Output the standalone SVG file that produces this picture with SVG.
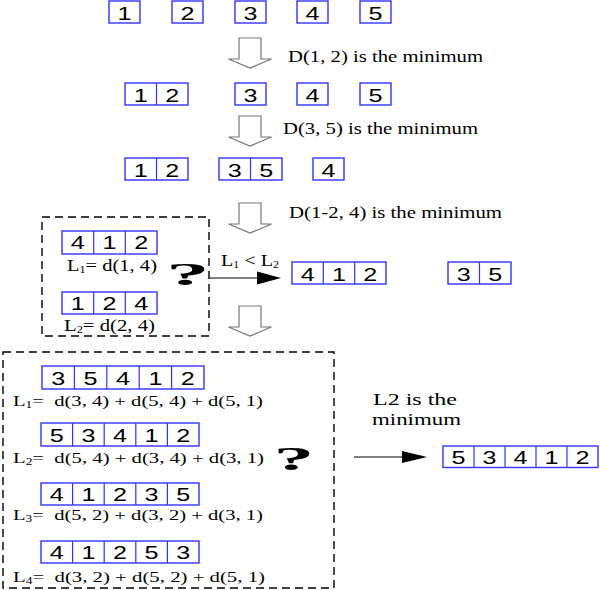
<svg xmlns="http://www.w3.org/2000/svg" width="600" height="590" viewBox="0 0 600 590">
<style>
.bx{fill:#fff;stroke:#3333ff;stroke-width:1.4}
.dv{stroke:#3333ff;stroke-width:1.2}
.dg{font-family:"Liberation Sans",Arial,sans-serif;font-size:19px;text-anchor:middle;fill:#000}
.tm{font-family:"Liberation Serif","Times New Roman",serif;font-size:17px;fill:#000}
.fm{font-family:"Liberation Serif","Times New Roman",serif;font-size:15.5px;fill:#000;white-space:pre}
.sb{font-size:10px}
.ha{fill:#fff;stroke:#777;stroke-width:1.2}
.dash{fill:none;stroke:#000;stroke-width:1.4;stroke-dasharray:8 5}
.ln{stroke:#000;stroke-width:1.2}
.q{font-family:"Liberation Serif","Times New Roman",serif;font-weight:bold;font-size:31px;text-anchor:middle}
</style>
<defs>
<path id="harrow" class="ha" d="M-11,0 H11 V21 H21.5 L0,30 L-21.5,21 H-11 Z"/>
</defs>

<!-- Row 1 -->
<g id="r1n1"><rect class="bx" x="109" y="1" width="31" height="22"/><text class="dg" x="124.5" y="19.5" textLength="14" lengthAdjust="spacingAndGlyphs">1</text></g>
<g id="r1n2"><rect class="bx" x="172" y="1" width="31" height="22"/><text class="dg" x="187.5" y="19.5" textLength="14" lengthAdjust="spacingAndGlyphs">2</text></g>
<g id="r1n3"><rect class="bx" x="235" y="1" width="31" height="22"/><text class="dg" x="250.5" y="19.5" textLength="14" lengthAdjust="spacingAndGlyphs">3</text></g>
<g id="r1n4"><rect class="bx" x="297" y="1" width="31" height="22"/><text class="dg" x="312.5" y="19.5" textLength="14" lengthAdjust="spacingAndGlyphs">4</text></g>
<g id="r1n5"><rect class="bx" x="360" y="1" width="31" height="22"/><text class="dg" x="375.5" y="19.5" textLength="14" lengthAdjust="spacingAndGlyphs">5</text></g>

<!-- Row 2 -->
<g id="r2n12"><rect class="bx" x="125" y="83" width="63" height="22"/><line class="dv" x1="156.5" y1="83" x2="156.5" y2="105"/>
<text class="dg" x="140.75" y="101.5" textLength="14" lengthAdjust="spacingAndGlyphs">1</text><text class="dg" x="172.25" y="101.5" textLength="14" lengthAdjust="spacingAndGlyphs">2</text></g>
<g id="r2n3"><rect class="bx" x="235" y="83" width="31" height="22"/><text class="dg" x="250.5" y="101.5" textLength="14" lengthAdjust="spacingAndGlyphs">3</text></g>
<g id="r2n4"><rect class="bx" x="297" y="83" width="31" height="22"/><text class="dg" x="312.5" y="101.5" textLength="14" lengthAdjust="spacingAndGlyphs">4</text></g>
<g id="r2n5"><rect class="bx" x="360" y="83" width="31" height="22"/><text class="dg" x="375.5" y="101.5" textLength="14" lengthAdjust="spacingAndGlyphs">5</text></g>

<!-- Row 3 -->
<g id="r3n12"><rect class="bx" x="125" y="158" width="63" height="22"/><line class="dv" x1="156.5" y1="158" x2="156.5" y2="180"/>
<text class="dg" x="140.75" y="176.5" textLength="14" lengthAdjust="spacingAndGlyphs">1</text><text class="dg" x="172.25" y="176.5" textLength="14" lengthAdjust="spacingAndGlyphs">2</text></g>
<g id="r3n35"><rect class="bx" x="219" y="158" width="63" height="22"/><line class="dv" x1="250.5" y1="158" x2="250.5" y2="180"/>
<text class="dg" x="234.75" y="176.5" textLength="14" lengthAdjust="spacingAndGlyphs">3</text><text class="dg" x="266.25" y="176.5" textLength="14" lengthAdjust="spacingAndGlyphs">5</text></g>
<g id="r3n4"><rect class="bx" x="313" y="158" width="31" height="22"/><text class="dg" x="328.5" y="176.5" textLength="14" lengthAdjust="spacingAndGlyphs">4</text></g>

<!-- Dashed box 1 -->
<g id="cand1">
<rect class="dash" x="42" y="217" width="167" height="119"/>
<g id="c412"><rect class="bx" x="62" y="231" width="95" height="23"/><line class="dv" x1="93.7" y1="231" x2="93.7" y2="254"/><line class="dv" x1="125.3" y1="231" x2="125.3" y2="254"/>
<text class="dg" x="77.8" y="249" textLength="14" lengthAdjust="spacingAndGlyphs">4</text><text class="dg" x="109.5" y="249" textLength="14" lengthAdjust="spacingAndGlyphs">1</text><text class="dg" x="141.2" y="249" textLength="14" lengthAdjust="spacingAndGlyphs">2</text></g>
<text class="tm" x="67" y="271" textLength="90" lengthAdjust="spacingAndGlyphs">L<tspan class="sb" dy="2">1</tspan><tspan dy="-2">= d(1, 4)</tspan></text>
<g id="c124"><rect class="bx" x="62" y="292" width="95" height="22"/><line class="dv" x1="93.7" y1="292" x2="93.7" y2="314"/><line class="dv" x1="125.3" y1="292" x2="125.3" y2="314"/>
<text class="dg" x="77.8" y="310" textLength="14" lengthAdjust="spacingAndGlyphs">1</text><text class="dg" x="109.5" y="310" textLength="14" lengthAdjust="spacingAndGlyphs">2</text><text class="dg" x="141.2" y="310" textLength="14" lengthAdjust="spacingAndGlyphs">4</text></g>
<text class="tm" x="64" y="331" textLength="91" lengthAdjust="spacingAndGlyphs">L<tspan class="sb" dy="2">2</tspan><tspan dy="-2">= d(2, 4)</tspan></text>
<text class="q" transform="translate(188,285) scale(2.8,1)">?</text>
</g>

<!-- Result row 4 -->
<g id="r4n412"><rect class="bx" x="292" y="262" width="94" height="22"/><line class="dv" x1="323.3" y1="262" x2="323.3" y2="284"/><line class="dv" x1="354.7" y1="262" x2="354.7" y2="284"/>
<text class="dg" x="307.7" y="280.5" textLength="14" lengthAdjust="spacingAndGlyphs">4</text><text class="dg" x="339" y="280.5" textLength="14" lengthAdjust="spacingAndGlyphs">1</text><text class="dg" x="370.3" y="280.5" textLength="14" lengthAdjust="spacingAndGlyphs">2</text></g>
<g id="r4n35"><rect class="bx" x="448" y="262" width="63" height="22"/><line class="dv" x1="479.5" y1="262" x2="479.5" y2="284"/>
<text class="dg" x="463.75" y="280.5" textLength="14" lengthAdjust="spacingAndGlyphs">3</text><text class="dg" x="495.25" y="280.5" textLength="14" lengthAdjust="spacingAndGlyphs">5</text></g>

<!-- Dashed box 2 -->
<g id="cand2">
<rect class="dash" x="3" y="352" width="331" height="236"/>
<g id="p35412"><rect class="bx" x="42" y="366" width="162" height="23"/>
<line class="dv" x1="74.4" y1="366" x2="74.4" y2="389"/><line class="dv" x1="106.8" y1="366" x2="106.8" y2="389"/><line class="dv" x1="139.2" y1="366" x2="139.2" y2="389"/><line class="dv" x1="171.6" y1="366" x2="171.6" y2="389"/>
<text class="dg" x="58.2" y="384.5" textLength="14" lengthAdjust="spacingAndGlyphs">3</text><text class="dg" x="90.6" y="384.5" textLength="14" lengthAdjust="spacingAndGlyphs">5</text><text class="dg" x="123" y="384.5" textLength="14" lengthAdjust="spacingAndGlyphs">4</text><text class="dg" x="155.4" y="384.5" textLength="14" lengthAdjust="spacingAndGlyphs">1</text><text class="dg" x="187.8" y="384.5" textLength="14" lengthAdjust="spacingAndGlyphs">2</text></g>
<text class="fm" x="13" y="406" textLength="250" lengthAdjust="spacingAndGlyphs">L<tspan class="sb" dy="2">1</tspan><tspan dy="-2">=  d(3, 4) + d(5, 4) + d(5, 1)</tspan></text>

<g id="p53412"><rect class="bx" x="41" y="423" width="158" height="23"/>
<line class="dv" x1="72.6" y1="423" x2="72.6" y2="446"/><line class="dv" x1="104.2" y1="423" x2="104.2" y2="446"/><line class="dv" x1="135.8" y1="423" x2="135.8" y2="446"/><line class="dv" x1="167.4" y1="423" x2="167.4" y2="446"/>
<text class="dg" x="56.8" y="441.5" textLength="14" lengthAdjust="spacingAndGlyphs">5</text><text class="dg" x="88.4" y="441.5" textLength="14" lengthAdjust="spacingAndGlyphs">3</text><text class="dg" x="120" y="441.5" textLength="14" lengthAdjust="spacingAndGlyphs">4</text><text class="dg" x="151.6" y="441.5" textLength="14" lengthAdjust="spacingAndGlyphs">1</text><text class="dg" x="183.2" y="441.5" textLength="14" lengthAdjust="spacingAndGlyphs">2</text></g>
<text class="fm" x="13" y="463" textLength="251" lengthAdjust="spacingAndGlyphs">L<tspan class="sb" dy="2">2</tspan><tspan dy="-2">=  d(5, 4) + d(3, 4) + d(3, 1)</tspan></text>

<g id="p41235"><rect class="bx" x="41" y="483" width="158" height="22"/>
<line class="dv" x1="72.6" y1="483" x2="72.6" y2="505"/><line class="dv" x1="104.2" y1="483" x2="104.2" y2="505"/><line class="dv" x1="135.8" y1="483" x2="135.8" y2="505"/><line class="dv" x1="167.4" y1="483" x2="167.4" y2="505"/>
<text class="dg" x="56.8" y="501" textLength="14" lengthAdjust="spacingAndGlyphs">4</text><text class="dg" x="88.4" y="501" textLength="14" lengthAdjust="spacingAndGlyphs">1</text><text class="dg" x="120" y="501" textLength="14" lengthAdjust="spacingAndGlyphs">2</text><text class="dg" x="151.6" y="501" textLength="14" lengthAdjust="spacingAndGlyphs">3</text><text class="dg" x="183.2" y="501" textLength="14" lengthAdjust="spacingAndGlyphs">5</text></g>
<text class="fm" x="13" y="520" textLength="250" lengthAdjust="spacingAndGlyphs">L<tspan class="sb" dy="2">3</tspan><tspan dy="-2">=  d(5, 2) + d(3, 2) + d(3, 1)</tspan></text>

<g id="p41253"><rect class="bx" x="41" y="541" width="158" height="22"/>
<line class="dv" x1="72.6" y1="541" x2="72.6" y2="563"/><line class="dv" x1="104.2" y1="541" x2="104.2" y2="563"/><line class="dv" x1="135.8" y1="541" x2="135.8" y2="563"/><line class="dv" x1="167.4" y1="541" x2="167.4" y2="563"/>
<text class="dg" x="56.8" y="559" textLength="14" lengthAdjust="spacingAndGlyphs">4</text><text class="dg" x="88.4" y="559" textLength="14" lengthAdjust="spacingAndGlyphs">1</text><text class="dg" x="120" y="559" textLength="14" lengthAdjust="spacingAndGlyphs">2</text><text class="dg" x="151.6" y="559" textLength="14" lengthAdjust="spacingAndGlyphs">5</text><text class="dg" x="183.2" y="559" textLength="14" lengthAdjust="spacingAndGlyphs">3</text></g>
<text class="fm" x="13" y="582" textLength="252" lengthAdjust="spacingAndGlyphs">L<tspan class="sb" dy="2">4</tspan><tspan dy="-2">=  d(3, 2) + d(5, 2) + d(5, 1)</tspan></text>

<text class="q" transform="translate(294,470) scale(2.6,1.1)">?</text>
</g>

<!-- Final result -->
<g id="final"><rect class="bx" x="443" y="446" width="155" height="21.5"/>
<line class="dv" x1="474" y1="446" x2="474" y2="467.5"/><line class="dv" x1="505" y1="446" x2="505" y2="467.5"/><line class="dv" x1="536" y1="446" x2="536" y2="467.5"/><line class="dv" x1="567" y1="446" x2="567" y2="467.5"/>
<text class="dg" x="458.5" y="463.5" textLength="14" lengthAdjust="spacingAndGlyphs">5</text><text class="dg" x="489.5" y="463.5" textLength="14" lengthAdjust="spacingAndGlyphs">3</text><text class="dg" x="520.5" y="463.5" textLength="14" lengthAdjust="spacingAndGlyphs">4</text><text class="dg" x="551.5" y="463.5" textLength="14" lengthAdjust="spacingAndGlyphs">1</text><text class="dg" x="582.5" y="463.5" textLength="14" lengthAdjust="spacingAndGlyphs">2</text></g>

<!-- Connectors -->
<g id="connectors">
<use href="#harrow" x="250" y="38"/>
<use href="#harrow" x="250" y="116"/>
<use href="#harrow" x="250" y="203"/>
<use href="#harrow" x="250" y="306"/>
<line class="ln" x1="209" y1="278" x2="259" y2="278"/>
<polygon points="257,271.5 281,278 257,284.5" fill="#000"/>
<line class="ln" x1="354" y1="457" x2="404" y2="457"/>
<polygon points="402,451 427,457 402,463" fill="#000"/>
</g>

<!-- Labels -->
<text class="tm" x="288" y="62" textLength="195" lengthAdjust="spacingAndGlyphs">D(1, 2) is the minimum</text>
<text class="tm" x="283" y="134" textLength="195" lengthAdjust="spacingAndGlyphs">D(3, 5) is the minimum</text>
<text class="tm" x="289" y="218" textLength="213" lengthAdjust="spacingAndGlyphs">D(1-2, 4) is the minimum</text>
<text class="tm" x="221" y="266" textLength="58" lengthAdjust="spacingAndGlyphs">L<tspan class="sb" dy="2">1</tspan><tspan dy="-2"> &lt; L</tspan><tspan class="sb" dy="2">2</tspan></text>
<text class="tm" x="373" y="405" textLength="84" lengthAdjust="spacingAndGlyphs">L2 is the</text>
<text class="tm" x="372" y="425" textLength="89" lengthAdjust="spacingAndGlyphs">minimum</text>
</svg>
